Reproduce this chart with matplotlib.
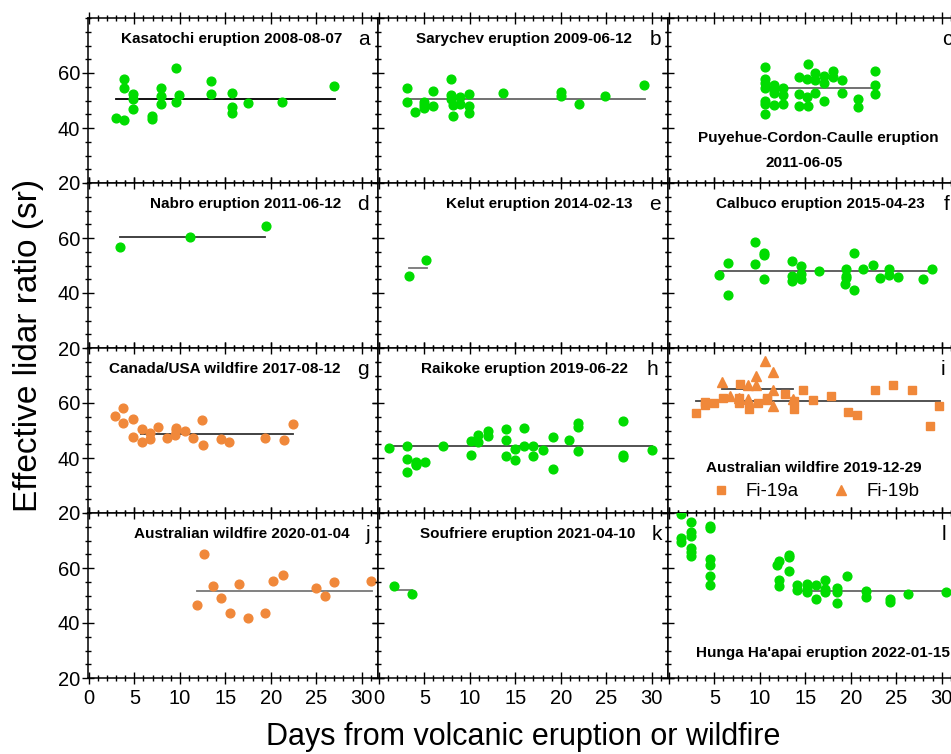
import matplotlib.pyplot as plt
from matplotlib.ticker import MultipleLocator

plt.rcParams['font.family'] = ['Liberation Sans', 'DejaVu Sans']

GREEN = '#00dc00'
ORANGE = '#f0883a'

# a Kasatochi
kas_x = [3.0, 3.9, 3.9, 3.9, 4.9, 4.9, 4.85, 6.9, 6.9, 7.9, 7.9, 7.9, 9.6, 9.6, 9.9,
         13.4, 13.4, 15.7, 15.7, 15.7, 17.5, 21.25, 27.0]
kas_y = [43.8, 43.0, 58.0, 54.4, 52.3, 50.5, 46.8, 44.4, 43.4, 54.4, 51.5, 48.6, 61.7, 49.5, 52.0,
         57.0, 52.5, 52.6, 47.5, 45.4, 49.0, 49.6, 55.2]
# b Sarychev
sar_x = [3.1, 3.1, 4.0, 5.0, 5.0, 5.0, 6.0, 6.0, 7.9, 7.9, 7.9, 8.2, 8.2, 8.9, 8.9,
         9.96, 9.96, 9.96, 13.6, 20.0, 20.0, 22.0, 24.9, 29.2]
sar_y = [54.5, 49.3, 45.7, 49.3, 48.4, 47.4, 53.4, 48.1, 58.0, 52.0, 50.5, 48.4, 44.5, 51.1, 48.6,
         52.5, 48.1, 45.5, 52.6, 53.2, 51.7, 48.6, 51.7, 55.8]
# c Puyehue-Cordon-Caulle
puy_x = [10.6, 10.6, 10.6, 10.6, 10.6, 10.6, 10.6, 11.6, 11.6, 11.6, 11.6, 12.5, 12.5, 12.5,
         14.3, 14.3, 14.3, 15.3, 15.2, 15.2, 15.3, 16.1, 16.1, 16.1, 17.1, 17.1, 17.1,
         18.05, 18.05, 19.0, 19.0, 20.8, 20.8, 22.7, 22.7, 22.7]
puy_y = [62.2, 58.0, 56.2, 54.4, 49.8, 48.6, 45.1, 55.6, 53.8, 52.6, 48.3, 54.6, 52.0, 48.6,
         58.7, 52.3, 47.9, 63.4, 57.7, 51.4, 48.0, 60.0, 57.5, 52.7, 59.0, 56.2, 49.9,
         60.7, 58.5, 57.5, 52.7, 50.5, 47.5, 60.8, 55.6, 52.2]
# d Nabro
nab_x = [3.4, 11.07, 19.45]
nab_y = [56.8, 60.5, 64.3]
# e Kelut
kel_x = [3.27, 5.2]
kel_y = [46.3, 52.1]
# f Calbuco
cal_x = [5.5, 6.5, 6.5, 9.45, 9.45, 10.5, 10.5, 10.5, 13.5, 13.5, 13.5, 14.5, 14.5, 14.5,
         16.5, 19.5, 19.5, 19.5, 19.4, 20.4, 20.4, 21.4, 22.4, 23.2, 24.2, 24.2, 25.2, 27.9, 28.9]
cal_y = [46.5, 39.4, 50.8, 58.6, 50.7, 54.6, 54.0, 45.1, 51.7, 46.2, 44.2, 49.9, 46.9, 45.0,
         48.1, 48.9, 46.1, 45.5, 43.2, 54.4, 41.0, 48.9, 50.1, 45.5, 48.9, 46.5, 45.8, 45.1, 48.7]
# g Canada/USA wildfire
can_x = [2.83, 3.8, 3.8, 4.8, 4.8, 5.8, 5.8, 6.7, 6.7, 7.6, 8.6, 9.5, 9.6, 9.6, 10.55,
         11.5, 12.4, 12.5, 14.5, 15.4, 19.4, 21.5, 22.5]
can_y = [55.1, 58.2, 52.9, 54.2, 47.7, 50.7, 45.7, 49.2, 46.9, 51.2, 47.3, 48.3, 51.0, 50.1, 49.8,
         47.4, 54.0, 44.9, 47.0, 45.7, 47.4, 46.4, 52.3]
# h Raikoke
rai_x = [1.07, 3.1, 3.1, 3.1, 4.1, 4.1, 4.1, 5.1, 7.1, 10.1, 10.1, 10.9, 10.9, 11.95, 11.95,
         14.0, 14.0, 14.0, 15.0, 15.0, 16.0, 16.0, 17.0, 17.0, 18.05, 19.1, 19.1, 20.9,
         21.9, 21.9, 21.9, 26.9, 26.9, 26.9, 30.0]
rai_y = [43.6, 44.3, 39.8, 35.0, 38.7, 37.9, 37.3, 38.5, 44.5, 46.1, 41.2, 48.3, 45.8, 49.8, 48.1,
         50.4, 46.4, 40.7, 43.2, 39.4, 50.8, 44.5, 44.5, 40.8, 43.0, 47.6, 36.1, 46.4,
         52.9, 51.2, 42.4, 53.3, 41.1, 40.4, 42.9]
# i Australian wildfire 2019-12-29
fi19a_x = [3.0, 3.97, 3.97, 4.96, 5.9, 7.8, 7.76, 7.76, 8.86, 9.8, 10.8, 10.8, 12.76, 13.8, 13.8,
           14.8, 15.8, 17.8, 19.75, 20.7, 22.7, 24.7, 26.7, 28.7, 29.7]
fi19a_y = [56.4, 60.2, 59.3, 60.0, 61.9, 66.8, 62.0, 60.1, 57.9, 60.0, 62.0, 61.1, 63.1, 60.7, 57.9,
           64.6, 61.2, 62.6, 56.9, 55.7, 64.8, 66.7, 64.9, 51.7, 58.9]
fi19b_x = [5.85, 6.76, 7.7, 8.7, 8.7, 9.6, 9.6, 10.6, 11.5, 11.5, 11.4, 13.6]
fi19b_y = [67.7, 62.6, 62.0, 66.4, 61.5, 70.0, 66.4, 75.1, 71.2, 64.9, 58.9, 61.3]
# j Australian wildfire 2020-01-04
aus_x = [11.84, 12.7, 13.6, 14.56, 15.55, 16.5, 17.46, 19.4, 20.3, 21.3, 25.0, 26.0, 27.0, 31.0]
aus_y = [46.4, 65.1, 53.4, 49.2, 43.6, 54.1, 42.0, 43.6, 55.2, 57.3, 52.9, 49.9, 54.9, 55.4]
# k Soufriere
sou_x = [1.7, 3.68]
sou_y = [53.4, 50.4]
# l Hunga Ha'apai
hun_x = [1.36, 1.36, 1.36, 2.46, 2.46, 2.46, 2.46, 2.46, 2.46, 4.56, 4.56, 4.56, 4.56, 4.56, 4.56,
         11.84, 12.1, 12.1, 12.1, 13.2, 13.2, 13.2, 14.1, 14.1, 15.15, 15.15, 15.15, 16.2, 16.2,
         17.2, 17.2, 17.2, 18.45, 18.45, 18.45, 19.6, 21.65, 21.65, 24.3, 24.3, 26.3, 30.5]
hun_y = [79.6, 70.8, 69.4, 76.6, 73.0, 71.6, 67.2, 66.0, 64.3, 75.2, 74.5, 63.1, 61.0, 57.0, 54.0,
         61.2, 62.4, 55.5, 53.3, 64.9, 64.0, 58.8, 54.0, 52.0, 54.2, 52.4, 51.1, 53.7, 48.6,
         55.8, 52.2, 51.1, 52.9, 51.2, 47.2, 57.2, 51.7, 49.6, 48.7, 47.8, 50.6, 51.1]

# mean lines: start day, end day, value (panels a..l, i has two)
mean_start = [3.0, 3.1, 10.6, 3.4, 3.27, 5.5, 5.7, 1.07, 3.0, 11.84, 1.7, 14.1]
mean_end = [27.1, 29.3, 22.7, 19.4, 5.3, 29.0, 22.5, 30.0, 29.8, 31.1, 3.68, 30.6]
mean_val = [50.5, 50.4, 54.4, 60.5, 49.2, 48.0, 48.6, 44.2, 60.6, 51.6, 51.9, 51.6]
fi19b_mean = (5.85, 13.7, 65.0)

letters = list('abcdefghijkl')
titles = ['Kasatochi eruption 2008-08-07', 'Sarychev eruption 2009-06-12', None,
          'Nabro eruption 2011-06-12', 'Kelut eruption 2014-02-13', 'Calbuco eruption 2015-04-23',
          'Canada/USA wildfire 2017-08-12', 'Raikoke eruption 2019-06-22', None,
          'Australian wildfire 2020-01-04', 'Soufriere eruption 2021-04-10', None]
data = [(kas_x, kas_y, GREEN), (sar_x, sar_y, GREEN), (puy_x, puy_y, GREEN),
        (nab_x, nab_y, GREEN), (kel_x, kel_y, GREEN), (cal_x, cal_y, GREEN),
        (can_x, can_y, ORANGE), (rai_x, rai_y, GREEN), (fi19a_x, fi19a_y, ORANGE),
        (aus_x, aus_y, ORANGE), (sou_x, sou_y, GREEN), (hun_x, hun_y, GREEN)]
line_cols = ['black', '#666666', '#666666', '#333333', '#777777', '#555555',
             '#333333', '#444444', '#444444', '#777777', '#777777', '#666666']
title_right = [0.876, 0.876, None, 0.872, 0.879, 0.886, 0.869, 0.862, None, 0.903, 0.886, None]
letter_x = [0.952, 0.955, 0.962, 0.948, 0.955, 0.962, 0.948, 0.945, 0.948, 0.966, 0.962, 0.952]

W, H = 951, 754
fig = plt.figure(figsize=(W / 100, H / 100), dpi=100)
lefts = [88, 378, 668]
tops = [18, 183, 348, 513]
pw, ph = 290, 165
TFS = 11

for k in range(12):
    r, c = divmod(k, 3)
    ax = fig.add_axes([lefts[c] / W, 1 - (tops[r] + ph) / H, pw / W, ph / H])
    x, y, col = data[k]
    ax.plot(x, y, 'o' if k != 8 else 's', color=col, ms=6.3 if k != 8 else 5.5,
            mec=col, ls='none', zorder=3, label='Fi-19a')
    ax.plot([mean_start[k], mean_end[k]], [mean_val[k]] * 2, color=line_cols[k], lw=1.3, zorder=2)
    if k == 8:
        ax.plot(fi19b_x, fi19b_y, '^', color=ORANGE, ms=7, ls='none', zorder=3, label='Fi-19b')
        ax.plot([fi19b_mean[0], fi19b_mean[1]], [fi19b_mean[2]] * 2, color='#444444', lw=1.3, zorder=2)
        ax.legend(loc='center', bbox_to_anchor=(0.5, 0.13), ncol=2, frameon=False,
                  fontsize=13.5, handletextpad=0.6, columnspacing=1.5, handlelength=1.5)
        ax.text(0.503, 0.27, 'Australian wildfire 2019-12-29', transform=ax.transAxes,
                ha='center', va='center', fontsize=TFS, fontweight='bold')
    ax.set_xlim(-0.1, 31.8)
    ax.set_ylim(20, 80)
    ax.xaxis.set_major_locator(MultipleLocator(5))
    ax.xaxis.set_minor_locator(MultipleLocator(1))
    ax.yaxis.set_major_locator(MultipleLocator(20))
    ax.yaxis.set_minor_locator(MultipleLocator(5))
    ax.tick_params(which='both', direction='inout', top=True, right=True, labelsize=14.5, width=1)
    ax.tick_params(which='major', length=9)
    ax.tick_params(which='minor', length=5)
    ax.tick_params(axis='y', pad=1)
    for s in ax.spines.values():
        s.set_linewidth(1.1)

    if titles[k]:
        ax.text(title_right[k], 0.87, titles[k], transform=ax.transAxes,
                ha='right', va='center', fontsize=TFS, fontweight='bold')
    ax.text(letter_x[k], 0.87, letters[k], transform=ax.transAxes,
            ha='center', va='center', fontsize=15)
    if k == 2:
        ax.text(0.517, 0.27, 'Puyehue-Cordon-Caulle eruption', transform=ax.transAxes,
                ha='center', va='center', fontsize=TFS, fontweight='bold')
        ax.text(0.47, 0.12, '2011-06-05', transform=ax.transAxes,
                ha='center', va='center', fontsize=TFS, fontweight='bold')
    if k == 11:
        ax.text(0.534, 0.15, "Hunga Ha'apai eruption 2022-01-15", transform=ax.transAxes,
                ha='center', va='center', fontsize=TFS, fontweight='bold')

    if c == 0:
        ax.set_yticks([20, 40, 60])
        ax.set_yticks(range(20, 81, 5), minor=True)
    else:
        ax.tick_params(labelleft=False)
    if r == 3:
        if c == 2:
            ax.set_xticks([0, 5, 10, 15, 20, 25, 30])
            ax.set_xticklabels(['', '5', '10', '15', '20', '25', '30'])
    else:
        ax.tick_params(labelbottom=False)

fig.text(0.03, 0.542, 'Effective lidar ratio (sr)', rotation=90, ha='center', va='center', fontsize=24)
fig.text(0.55, 0.022, 'Days from volcanic eruption or wildfire', ha='center', va='center', fontsize=22)

fig.savefig('out.png', dpi=100)
